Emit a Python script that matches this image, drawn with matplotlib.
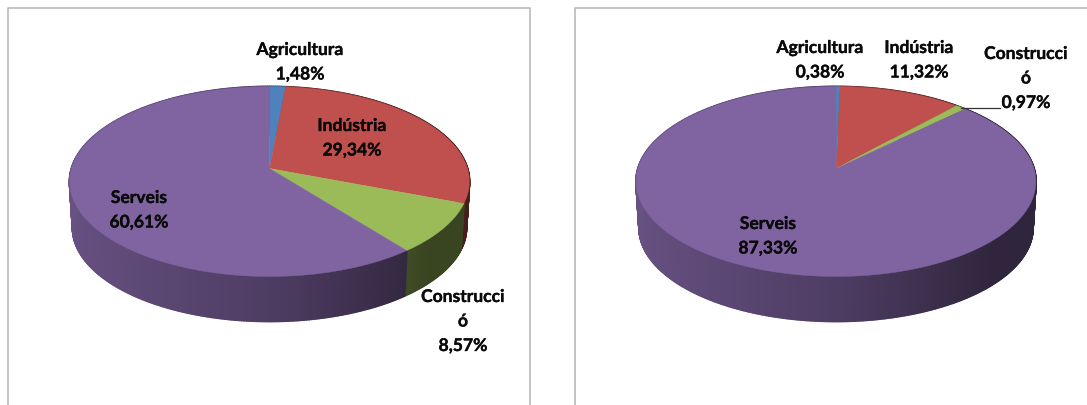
import numpy as np
import matplotlib
matplotlib.use('Agg')
from matplotlib import pyplot as plt
from matplotlib import patheffects

categories = ['Agricultura', 'Indústria', 'Construcció', 'Serveis']
values_left = [1.48, 29.34, 8.57, 60.61]
values_right = [0.38, 11.32, 0.97, 87.33]
colors = ['#4F81BD', '#C0504D', '#9BBB59', '#8064A2']

plt.rcParams['font.family'] = ['Lato', 'DejaVu Sans']
plt.rcParams['font.weight'] = 'bold'

# perspective of the disc, pixels
RX = 198.0
RY = 93.2
K = 0.137
DEPTH = 46.5
BOTTOM = 0.985


def project(theta, cx, cy, scale=1.0, dy=0.0):
	u = np.sin(theta)
	v = np.cos(theta)
	d = 1 + K * v
	return cx + scale * RX * u / d, cy - scale * RY * v / d + dy


def wall_shade(u):
	if u < 0:
		return 0.61 - 0.20 * u
	return max(0.61 - 0.33 * u, 0.37)


def draw_pie(ax, values, cx, cy):
	fracs = np.cumsum([0] + values) / np.sum(values)
	edges = fracs * 2 * np.pi

	# side wall first, shaded left to right
	for i in range(len(values)):
		n = max(int((edges[i+1] - edges[i]) * 90), 2)
		th = np.linspace(edges[i], edges[i+1], n + 1)
		base = np.array(matplotlib.colors.to_rgb(colors[i]))
		for a, b in zip(th[:-1], th[1:]):
			x1, y1 = project(np.array([a, b]), cx, cy)
			x2, y2 = project(np.array([b, a]), cx, cy, BOTTOM, DEPTH)
			c = base * wall_shade(np.sin((a + b) / 2))
			ax.fill(np.r_[x1, x2], np.r_[y1, y2], color=c, lw=1.4, zorder=2,
					joinstyle='round')

	# top of the disc
	for i in range(len(values)):
		th = np.linspace(edges[i], edges[i+1], 200)
		x, y = project(th, cx, cy)
		ax.fill(np.r_[cx, x], np.r_[cy, y], color=colors[i], lw=0.3, zorder=3)


def label(ax, x, y, lines, step=24.5):
	for i, s in enumerate(lines):
		t = ax.text(x, y + 1 + i * step, s, ha='center', va='center', fontsize=12.6,
				fontweight='bold', color='#0a0a0a', zorder=5)
		t.set_path_effects([patheffects.withStroke(linewidth=0.25, foreground='#0a0a0a')])


fig = plt.figure(figsize=(10.87, 4.05), dpi=100, facecolor='white')
ax = fig.add_axes([0, 0, 1, 1])
ax.set_xlim(0, 1087)
ax.set_ylim(405, 0)
ax.axis('off')

# chart frames, open at the bottom
frame = '#b4b4b4'
ax.plot([8, 8, 530, 530], [405, 8, 8, 405], color=frame, lw=1.1, zorder=1)
ax.plot([575, 575, 1087], [405, 8, 8], color=frame, lw=1.1, zorder=1)

draw_pie(ax, values_left, 269.5, 168.5)
draw_pie(ax, values_right, 836, 168.5)

label(ax, 300, 49, ['Agricultura', '1,48%'])
label(ax, 352, 125, ['Indústria', '29,34%'])
label(ax, 139, 197, ['Serveis', '60,61%'])
label(ax, 463, 296, ['Construcci', 'ó', '8,57%'])

label(ax, 820, 47, ['Agricultura', '0,38%'])
label(ax, 919, 47, ['Indústria', '11,32%'])
label(ax, 768, 223, ['Serveis', '87,33%'])
label(ax, 1026, 53, ['Construcci', 'ó', '0,97%'])
ax.plot([961, 1000], [107.5, 107.5], color='#333333', lw=0.9, zorder=4)

fig.savefig('out.png', dpi=100)
